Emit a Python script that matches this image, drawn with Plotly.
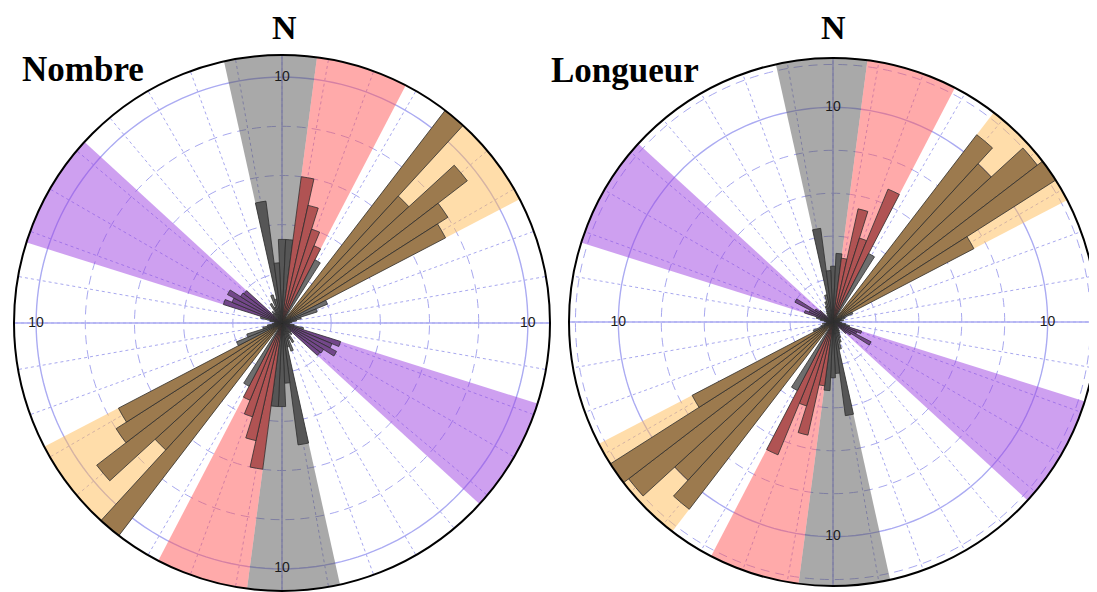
import plotly.graph_objects as go

# ---------------- data ----------------
# 5-degree bins, axial data (value at theta and theta+180 identical)
bin_centers = list(range(0, 180, 5))
nombre_counts = [3.4, 3.4, 6.0, 4.9, 4.0, 3.4, 2.9, 0.3, 11.2, 7.0,
                 9.5, 8.0, 7.5, 2.0, 1.5, 0.8, 0.6, 0.4, 0.3, 0.3,
                 0.5, 0.9, 2.5, 2.2, 2.5, 2.0, 1.95, 0.5, 0.6, 0.5,
                 0.9, 0.7, 1.2, 1.0, 5.0, 2.45]
longueur_values = [2.6, 3.2, 3.0, 5.4, 4.1, 6.7, 3.6, 0.3, 11.0, 10.0,
                   12.0, 12.4, 7.4, 1.0, 0.6, 0.4, 0.5, 0.3, 0.3, 0.4,
                   0.6, 0.8, 1.4, 1.2, 2.0, 1.0, 0.8, 0.3, 0.4, 0.5,
                   0.6, 0.8, 1.0, 1.3, 4.4, 2.4]
bin_width = 5

# shaded sectors (start, end in degrees, clockwise from N), axial -> mirrored
sector_names = ["gris", "rouge", "beige", "violet"]
sector_start = [-12.5, 7.5, 37.5, 287.5]
sector_end = [7.5, 27.5, 62.5, 312.5]
sector_fill = ["rgba(84,84,84,0.5)", "rgba(255,85,85,0.5)",
               "rgba(255,187,85,0.5)", "rgba(158,66,226,0.5)"]
bar_fill = ["#565656", "#B05353", "#9C7A4E", "#73478A"]
bar_fill_other = "#6E6E6E"

titles = ["Nombre", "Longueur"]
rmax = [10.9, 12.3]
ring_vals = [[2, 4, 6, 8], [2, 4, 6, 8, 12]]

# ---------------- helpers ----------------
def in_sector(t, s, e):
    t = t % 360
    for off in (0, 180):
        a = (s + off) % 360
        b = (e + off) % 360
        if a < b:
            if a <= t < b:
                return True
        else:
            if t >= a or t < b:
                return True
    return False


def bar_color(t):
    for k in range(len(sector_start)):
        if in_sector(t, sector_start[k], sector_end[k]):
            return bar_fill[k]
    return bar_fill_other


W, H = 1097, 592
OFF = 8  # page body margin offset


def px_x(x):
    return (x - OFF) / W


def px_y(y):
    return 1 - (y - OFF) / H


fig = go.Figure()

domains = [
    dict(x=[px_x(14), px_x(550)], y=[px_y(591), px_y(55)]),
    dict(x=[px_x(569), px_x(1097)], y=[px_y(586), px_y(58)]),
]

grid_col = "#A8A8EF"
solid_col = "#ABABF2"

for i, vals in enumerate([nombre_counts, longueur_values]):
    bg = "polar" if i == 0 else "polar3"
    fg = "polar2" if i == 0 else "polar4"
    R = rmax[i]

    # solid axis lines and the r=10 ring (background subplot)
    fig.add_trace(go.Scatterpolar(r=[R, 0, R], theta=[0, 0, 180], mode="lines",
                                  line=dict(color=solid_col, width=1.4),
                                  subplot=bg, showlegend=False, hoverinfo="skip"))
    fig.add_trace(go.Scatterpolar(r=[R, 0, R], theta=[90, 90, 270], mode="lines",
                                  line=dict(color=solid_col, width=1.4),
                                  subplot=bg, showlegend=False, hoverinfo="skip"))
    ring_theta = list(range(0, 361, 2))
    fig.add_trace(go.Scatterpolar(r=[10] * len(ring_theta), theta=ring_theta, mode="lines",
                                  line=dict(color=solid_col, width=1.4),
                                  subplot=bg, showlegend=False, hoverinfo="skip"))

    # shaded sectors (foreground subplot, semi-transparent so grid shows)
    for k in range(len(sector_start)):
        w = sector_end[k] - sector_start[k]
        c = (sector_start[k] + sector_end[k]) / 2
        fig.add_trace(go.Barpolar(r=[R + 1, R + 1], theta=[c, c + 180], width=[w, w],
                                  marker=dict(color=sector_fill[k], line=dict(width=0)),
                                  subplot=fg, showlegend=False, hoverinfo="skip",
                                  name=sector_names[k]))

    # rose bars
    thetas = bin_centers + [t + 180 for t in bin_centers]
    rs = vals + vals
    cols = [bar_color(t) for t in thetas]
    fig.add_trace(go.Barpolar(r=rs, theta=thetas, width=[bin_width] * len(thetas),
                              marker=dict(color=cols, line=dict(color="#2E2E2E", width=0.8)),
                              subplot=fg, showlegend=False, name=titles[i]))

    # "10" labels
    fig.add_trace(go.Scatterpolar(r=[10, 10, 10, 10], theta=[0, 90, 180, 270], mode="text",
                                  text=["10", "10", "10", "10"],
                                  textfont=dict(family="Liberation Sans, Arial", size=14, color="#1a1a1a"),
                                  subplot=fg, showlegend=False, hoverinfo="skip"))

    common_ang = dict(rotation=90, direction="clockwise", tickmode="linear", tick0=0, dtick=10,
                      showticklabels=False, ticks="")
    fig.update_layout(**{
        bg: dict(domain=domains[i], bgcolor="white", barmode="overlay",
                 radialaxis=dict(range=[0, R], tickmode="array", tickvals=ring_vals[i],
                                 showticklabels=False, ticks="", showline=False,
                                 gridcolor=grid_col, griddash="9px,6px", gridwidth=1),
                 angularaxis=dict(**common_ang, showline=False, gridcolor=grid_col,
                                  griddash="3px,3px", gridwidth=1)),
        fg: dict(domain=domains[i], bgcolor="rgba(0,0,0,0)", barmode="overlay",
                 radialaxis=dict(range=[0, R], showgrid=False, showticklabels=False,
                                 ticks="", showline=False),
                 angularaxis=dict(**common_ang, showgrid=False, showline=True,
                                  linecolor="black", linewidth=2)),
    })

serif = "Liberation Serif, Times New Roman, serif"
ann = [
    dict(text="<b>N</b>", x=284, y=27, size=34, xanchor="center"),
    dict(text="<b>N</b>", x=833, y=27, size=34, xanchor="center"),
    dict(text="<b>Nombre</b>", x=20, y=70, size=35, xanchor="left"),
    dict(text="<b>Longueur</b>", x=549, y=71, size=35, xanchor="left"),
]
for a in ann:
    fig.add_annotation(text=a["text"], x=px_x(a["x"]), y=px_y(a["y"]), xref="paper", yref="paper",
                       xanchor=a["xanchor"], yanchor="middle", showarrow=False,
                       font=dict(family=serif, size=a["size"], color="black"))

fig.update_layout(width=W, height=H, margin=dict(l=0, r=0, t=0, b=0),
                  paper_bgcolor="white", plot_bgcolor="white", showlegend=False)

fig.write_html("out.html")
